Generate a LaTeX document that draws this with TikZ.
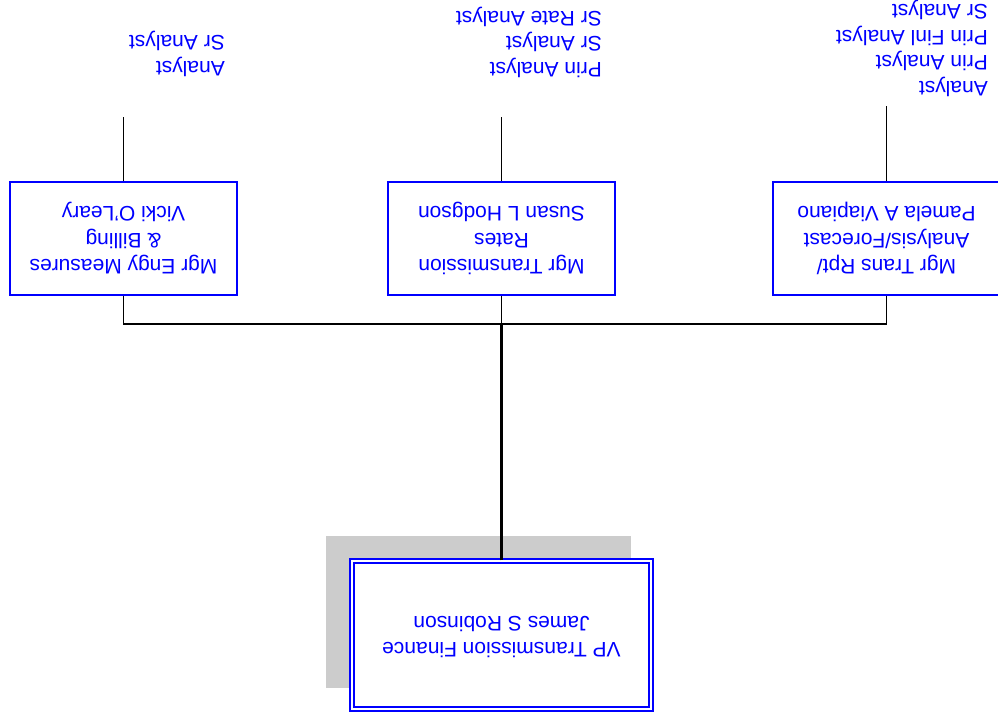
\documentclass[tikz,border=0pt]{standalone}
\usepackage{fontspec}
\setmainfont{Liberation Sans}
% Upside-down text blocks: centred for boxes, left-set for staff lists
\newcommand\flipc[1]{\rotatebox[origin=c]{180}{\begin{tabular}{@{}c@{}}#1\end{tabular}}}
\newcommand\flipl[1]{\rotatebox[origin=c]{180}{\begin{tabular}{@{}l@{}}#1\end{tabular}}}
\definecolor{shadowgray}{HTML}{CCCCCC}
\begin{document}
\begin{tikzpicture}[x=1pt,y=-1pt,
  every node/.style={text=blue},
  unit/.style={draw=blue, line width=1.8pt, minimum width=227pt, minimum height=113pt,
               inner sep=0pt, font=\fontsize{21}{26.5}\selectfont},
  head/.style={draw=blue, line width=1.5pt, double=white, double distance=2.5pt,
               fill=white, minimum width=299pt, minimum height=148pt, inner sep=0pt,
               font=\fontsize{21}{26}\selectfont},
  staff/.style={anchor=east, inner sep=0pt, font=\fontsize{21}{25.5}\selectfont},
  link/.style={line width=1.5pt},
  trunk/.style={line width=2.6pt}]
\clip (0,0) rectangle (998,720);

% shadow behind the head box
\fill[shadowgray] (326,536) rectangle (631,688);

% head of the unit
\node[head] (vp) at (501.5,635) {\flipc{VP Transmission Finance\\James S Robinson}};

% reporting managers
\node[unit] (b1) at (123.5,238.5) {\flipc{Mgr Engy Measures\\\& Billing\\Vicki O'Leary}};
\node[unit] (b2) at (501.5,238.5) {\flipc{Mgr Transmission\\Rates\\Susan L Hodgson}};
\node[unit] (b3) at (886.5,238.5) {\flipc{Mgr Trans Rpt/\\Analysis/Forecast\\Pamela A Viapiano}};

% staff lists
\node[staff] (s1) at (225,53.5) {\flipl{Analyst\\Sr Analyst}};
\node[staff] (s2) at (602,42) {\flipl{Prin Analyst\\Sr Analyst\\Sr Rate Analyst}};
\node[staff] (s3) at (988,48) {\flipl{Analyst\\Prin Analyst\\Prin Finl Analyst\\Sr Analyst}};

% connectors
\coordinate (bus) at (501.5,323);
\coordinate (t1) at (123.5,117);
\coordinate (t2) at (501.5,117);
\coordinate (t3) at (886.5,106);
\draw[trunk] (vp.north) -- (bus);
\draw[link] (b1.south) -- ++(0,28) -| (b3.south);
\draw[link] (b2.south) -- (bus);
\draw[link] (b1.north) -- (t1);
\draw[link] (b2.north) -- (t2);
\draw[link] (b3.north) -- (t3);
\end{tikzpicture}
\end{document}
